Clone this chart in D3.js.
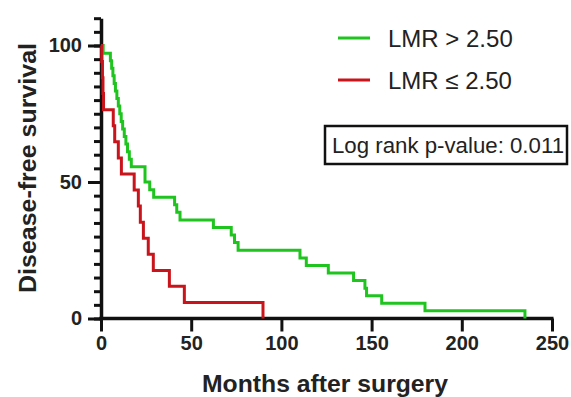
<!DOCTYPE html>
<html>
<head>
<meta charset="utf-8">
<script src="https://cdn.jsdelivr.net/npm/d3@7"></script>
<style>
  body { margin: 0; background: #fff; }
  svg { display: block; font-family: "Liberation Sans", Arial, sans-serif; }
  .axis path, .axis line { stroke: #111; }
  .axis text { fill: #222; font-weight: bold; }
</style>
</head>
<body>
<div id="chart"></div>
<script>
// Kaplan-Meier steps: months, survival %
const highTimes = [0, 1.2, 5.2, 5.9, 6.6, 7.3, 8.0, 8.8, 9.6, 10.4, 11.2, 12.0, 12.9, 13.8, 14.7, 15.7, 16.8,
  24.4, 27.0, 29.2, 40.8, 42.0, 43.8, 62.3, 72.2, 74.0, 76.0, 110.3, 113.8, 126.0, 140.0, 146.3, 147.2, 155.6, 179.6, 235];
const highSurv = [100, 97.2, 94.4, 91.7, 88.9, 86.1, 83.3, 80.6, 77.8, 75.0, 72.2, 69.4, 66.7, 63.9, 61.1, 58.3, 55.6,
  50.0, 47.2, 44.4, 41.7, 38.9, 36.1, 33.3, 30.6, 27.8, 25.0, 22.2, 19.4, 16.7, 13.9, 11.1, 8.3, 5.6, 2.8, 0];

const lowTimes = [0, 0.4, 0.8, 1.1, 1.4, 6.8, 7.6, 9.6, 11.3, 18.4, 20.7, 21.8, 23.5, 26.2, 29.0, 37.9, 46.2, 89.8];
const lowSurv = [100, 94.1, 88.2, 82.4, 76.5, 70.6, 64.7, 58.8, 52.9, 47.1, 41.2, 35.3, 29.4, 23.5, 17.6, 11.8, 5.9, 0];

const seriesNames = ['LMR > 2.50', 'LMR \u2264 2.50'];
const seriesColors = ['#1fc41f', '#c8141a'];
const xTicks = [0, 50, 100, 150, 200, 250];
const yTicks = [0, 50, 100];
const pValueLabel = 'Log rank p-value: 0.011';

const width = 571, height = 397;

const svg = d3.select('#chart').append('svg')
  .attr('width', width)
  .attr('height', height);

const x = d3.scaleLinear().domain([0, 250]).range([101, 552]);
const y = d3.scaleLinear().domain([0, 110]).range([318.5, 18.2]);

// minor y ticks every 5
svg.append('g')
  .attr('class', 'axis')
  .attr('transform', `translate(${x(0)},0)`)
  .call(d3.axisLeft(y).tickValues(d3.range(0, 111, 5)).tickSize(7).tickFormat(''))
  .call(g => g.select('.domain').remove())
  .call(g => g.selectAll('line').attr('stroke-width', 3));

// major y ticks + labels
const yAxis = svg.append('g')
  .attr('class', 'axis')
  .attr('transform', `translate(${x(0)},0)`)
  .call(d3.axisLeft(y).tickValues(yTicks).tickSize(13).tickPadding(6).tickSizeOuter(0))
  .call(g => g.selectAll('line').attr('stroke-width', 3))
  .call(g => g.select('.domain').attr('stroke-width', 3.5));
yAxis.selectAll('text').style('font-size', '20px');

const xAxis = svg.append('g')
  .attr('class', 'axis')
  .attr('transform', `translate(0,${y(0)})`)
  .call(d3.axisBottom(x).tickValues(xTicks).tickSize(13).tickPadding(4).tickSizeOuter(0))
  .call(g => g.selectAll('line').attr('stroke-width', 3))
  .call(g => g.select('.domain').attr('stroke-width', 3.5).attr('d', `M${x(0) - 1.75},0H${x(250) + 1.5}`));
xAxis.selectAll('text').style('font-size', '20px');

// curves
const line = d3.line()
  .x(d => x(d[0]))
  .y(d => y(d[1]))
  .curve(d3.curveStepAfter);

const curves = [
  d3.zip(highTimes, highSurv),
  d3.zip(lowTimes, lowSurv)
];

// green first, red on top
svg.selectAll('.km')
  .data(curves)
  .join('path')
  .attr('class', 'km')
  .attr('d', line)
  .attr('fill', 'none')
  .attr('stroke', (d, i) => seriesColors[i])
  .attr('stroke-width', 3);

// axis titles
svg.append('text')
  .attr('x', 325)
  .attr('y', 392)
  .attr('text-anchor', 'middle')
  .attr('textLength', 246)
  .attr('lengthAdjust', 'spacingAndGlyphs')
  .style('font-size', '24px')
  .style('font-weight', 'bold')
  .attr('fill', '#222')
  .text('Months after surgery');

svg.append('text')
  .attr('transform', 'translate(36,168) rotate(-90)')
  .attr('text-anchor', 'middle')
  .attr('textLength', 250)
  .attr('lengthAdjust', 'spacingAndGlyphs')
  .style('font-size', '24px')
  .style('font-weight', 'bold')
  .attr('fill', '#222')
  .text('Disease-free survival');

// legend
const legend = svg.append('g').attr('class', 'legend');
const legendRows = legend.selectAll('g')
  .data(seriesNames)
  .join('g')
  .attr('transform', (d, i) => `translate(338,${38 + i * 42})`);

legendRows.append('line')
  .attr('x1', 0).attr('x2', 32)
  .attr('stroke', (d, i) => seriesColors[i])
  .attr('stroke-width', 3);

legendRows.append('text')
  .attr('x', 50)
  .attr('y', 9)
  .style('font-size', '24px')
  .attr('fill', '#222')
  .text(d => d);

// p-value box
svg.append('rect')
  .attr('x', 325).attr('y', 126)
  .attr('width', 242).attr('height', 38)
  .attr('fill', '#fff')
  .attr('stroke', '#111')
  .attr('stroke-width', 2.5);

svg.append('text')
  .attr('x', 332)
  .attr('y', 153)
  .attr('textLength', 232)
  .attr('lengthAdjust', 'spacingAndGlyphs')
  .style('font-size', '22px')
  .attr('fill', '#222')
  .text(pValueLabel);
</script>
</body>
</html>
